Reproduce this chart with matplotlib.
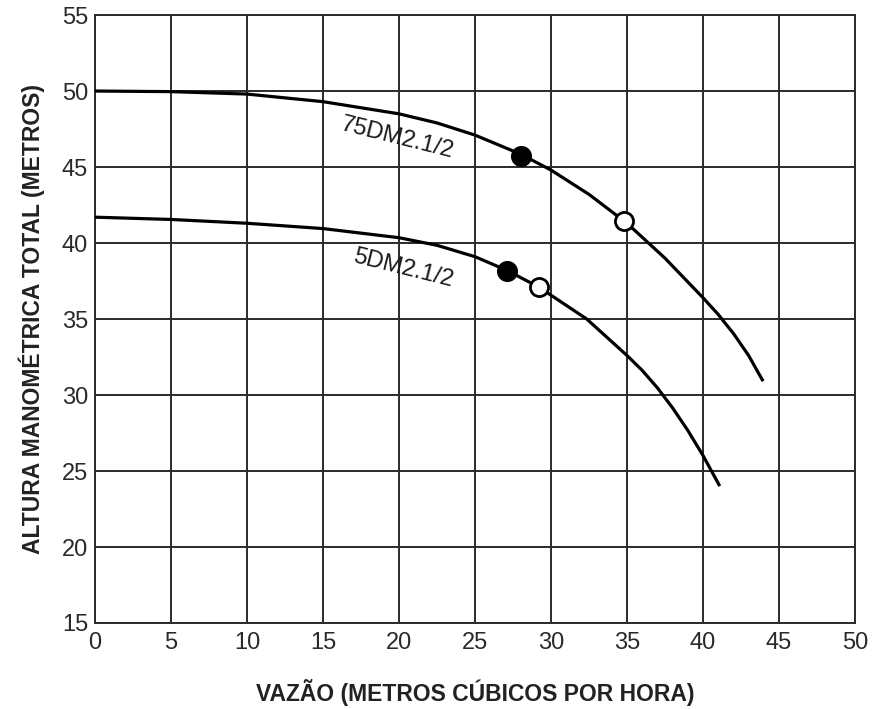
import numpy as np
import matplotlib.pyplot as plt

plt.rcParams['font.family'] = ['Liberation Sans', 'DejaVu Sans']

# curve 75DM2.1/2
vazao_75 = [0, 5, 10, 15, 20, 22.5, 25, 28, 30, 32.5, 35, 37.5, 40, 41, 42, 43, 43.9]
altura_75 = [50.0, 49.96, 49.8, 49.3, 48.5, 47.9, 47.1, 45.85, 44.8, 43.2, 41.3, 39.0, 36.4, 35.3, 34.05, 32.6, 31.0]

# curve 5DM2.1/2
vazao_5 = [0, 5, 10, 15, 20, 22.5, 25, 27.1, 29.2, 32.35, 35, 36, 37, 38, 39, 40, 41.05]
altura_5 = [41.7, 41.55, 41.3, 40.95, 40.35, 39.85, 39.1, 38.2, 37.1, 35.0, 32.6, 31.62, 30.47, 29.15, 27.67, 26.02, 24.1]

# operating points (filled / open)
cheio_x = [28.0, 27.1]
cheio_y = [45.75, 38.15]
vazio_x = [34.8, 29.2]
vazio_y = [41.45, 37.1]

fig = plt.figure(figsize=(8.73, 7.09), dpi=100)
ax = fig.add_axes([0.1088, 0.1213, 0.8706, 0.8575])

ax.plot(vazao_75, altura_75, color='black', lw=2.3, solid_joinstyle='round', zorder=3)
ax.plot(vazao_5, altura_5, color='black', lw=2.3, solid_joinstyle='round', zorder=3)
ax.scatter(cheio_x, cheio_y, s=200, color='black', zorder=4)
ax.scatter(vazio_x, vazio_y, s=170, facecolor='white', edgecolor='black', linewidth=2, zorder=4)

ax.text(19.9, 46.9, '75DM2.1/2', rotation=-14, fontsize=17, ha='center', va='center', color='#1a1a1a')
ax.text(20.3, 38.3, '5DM2.1/2', rotation=-14, fontsize=17, ha='center', va='center', color='#1a1a1a')

ax.set_xlim(0, 50)
ax.set_ylim(15, 55)
ax.set_xticks(np.arange(0, 51, 5))
ax.set_yticks(np.arange(15, 56, 5))
ax.grid(True, color='#2a2a2a', lw=1.4)
ax.set_axisbelow(True)
for s in ax.spines.values():
    s.set_color('#2a2a2a')
    s.set_linewidth(1.4)
ax.tick_params(length=0, labelsize=17, colors='#2a2a2a')
ax.tick_params(axis='x', pad=6.5)
ax.tick_params(axis='y', pad=5)

ax.set_xlabel('VAZÃO (METROS CÚBICOS POR HORA)', fontsize=16.5, fontweight='bold', labelpad=18, color='#222222')
ax.set_ylabel('ALTURA MANOMÉTRICA TOTAL (METROS)', fontsize=16.5, fontweight='bold', labelpad=12, color='#222222')

fig.savefig('out.png', dpi=100)
